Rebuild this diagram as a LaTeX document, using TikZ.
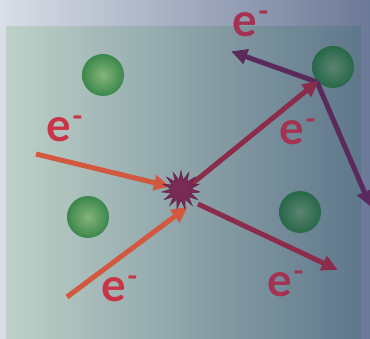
\documentclass[tikz,border=0pt]{standalone}
\usepackage{fontspec}
\newfontfamily\efont{Lato}
\usetikzlibrary{arrows.meta,shapes.geometric}
\definecolor{bgL}{HTML}{D9DEE7}
\definecolor{bgR}{HTML}{6C7997}
\definecolor{inL}{HTML}{BED1C8}
\definecolor{inR}{HTML}{5E778B}
\definecolor{orangeA}{HTML}{D2583F}
\definecolor{maroonA}{HTML}{8A2C4A}
\definecolor{purpA}{HTML}{5B2A5D}
\definecolor{starC}{HTML}{7A2A57}
\definecolor{redL}{HTML}{C93546}
\definecolor{maroonL}{HTML}{A33350}
\definecolor{ballLi}{HTML}{84B47A}
\definecolor{ballLo}{HTML}{3B874B}
\definecolor{ballDi}{HTML}{5A8472}
\definecolor{ballDo}{HTML}{276848}
\tikzset{
  ballL/.style={circle,minimum size=42pt,inner sep=0pt,inner color=ballLi,outer color=ballLo},
  ballD/.style={circle,minimum size=42pt,inner sep=0pt,inner color=ballDi,outer color=ballDo},
  arr/.style={line width=5pt,-{Triangle[length=16pt,width=15pt]},shorten >=-2pt},
  elabel/.style={anchor=base west,inner sep=0pt,font=\efont\bfseries\fontsize{46}{46}\selectfont},
}
\newcommand{\eminus}{e\hspace{1pt}\raisebox{15pt}{\fontsize{30}{30}\selectfont -}}
\begin{document}
\begin{tikzpicture}[x=1pt,y=-1pt]
\useasboundingbox (0,0) rectangle (370,339);
\shade[left color=bgL,right color=bgR] (0,0) rectangle (370,339);
\shade[left color=inL,right color=inR] (6,27) rectangle (361,339);
% balls
\node[ballL] (b1) at (103,75) {};
\node[ballL] (b2) at (88,217) {};
\node[ballD] (b3) at (333,67) {};
\node[ballD] (b4) at (300,212) {};
% coordinates
\coordinate (s1) at (36,154);
\coordinate (t1) at (168,186);
\coordinate (s2) at (67,297);
\coordinate (t2) at (186,208);
\coordinate (s3) at (188,187);
\coordinate (hit) at (317,82);
\coordinate (s4) at (198,204);
\coordinate (t4) at (336,269);
\coordinate (t5) at (233,52);
\coordinate (t6) at (370,205);
% arrows
\draw[arr,purpA] (hit) -- (t5);
\draw[arr,purpA] (hit) -- (t6);
\draw[arr,maroonA] (s3) -- (hit);
\draw[arr,maroonA] (s4) -- (t4);
\draw[arr,orangeA] (s1) -- (t1);
\draw[arr,orangeA] (s2) -- (t2);
% star
\node[star,star points=15,star point ratio=1.9,minimum size=38pt,inner sep=0pt,fill=starC,draw=starC!80!black,line width=0.6pt] (st) at (181,190) {};
% labels
\node[elabel,text=maroonL] (l1) at (232,37) {\eminus};
\node[elabel,text=redL] (l2) at (46,142) {\eminus};
\node[elabel,text=maroonL] (l3) at (279,145) {\eminus};
\node[elabel,text=redL] (l4) at (101,302) {\eminus};
\node[elabel,text=maroonL] (l5) at (267,297) {\eminus};
\end{tikzpicture}
\end{document}
